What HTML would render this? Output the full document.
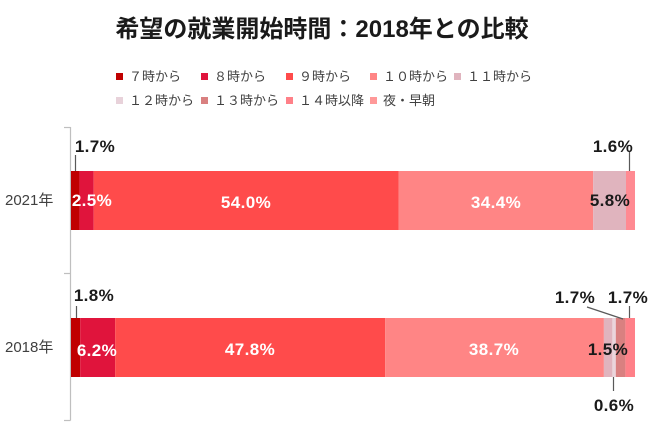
<!DOCTYPE html>
<html><head><meta charset="utf-8">
<style>
html,body{margin:0;padding:0;background:#fff;}
body{width:650px;height:434px;overflow:hidden;}
svg{display:block;}
text{font-family:"Liberation Sans","Noto Sans CJK JP",sans-serif;}
.t{font-weight:bold;font-size:24px;fill:#1a1a1a;}
.lg{font-size:13px;fill:#404040;}
.yl{font-size:15px;fill:#404040;}
.dw{font-weight:bold;font-size:17px;fill:#fff;letter-spacing:0.4px;}
.db{font-weight:bold;font-size:17px;fill:#1a1a1a;letter-spacing:0.4px;}
</style></head>
<body>
<svg width="650" height="434" viewBox="0 0 650 434" xmlns="http://www.w3.org/2000/svg">
<rect width="650" height="434" fill="#fff"/>
<text class="t" x="322" y="37" text-anchor="middle">希望の就業開始時間：2018年との比較</text>

<!-- legend row 1 -->
<rect x="116" y="73" width="7" height="7" fill="#C00000"/><text class="lg" x="129" y="81">７時から</text>
<rect x="201" y="73" width="7" height="7" fill="#E0143C"/><text class="lg" x="214" y="81">８時から</text>
<rect x="286" y="73" width="7" height="7" fill="#FF4B4B"/><text class="lg" x="299" y="81">９時から</text>
<rect x="370" y="73" width="7" height="7" fill="#FF8585"/><text class="lg" x="383" y="81">１０時から</text>
<rect x="454" y="73" width="7" height="7" fill="#E0B4BE"/><text class="lg" x="467" y="81">１１時から</text>
<!-- legend row 2 -->
<rect x="116" y="97" width="7" height="7" fill="#E8D2DA"/><text class="lg" x="129" y="105">１２時から</text>
<rect x="201" y="97" width="7" height="7" fill="#D98080"/><text class="lg" x="214" y="105">１３時から</text>
<rect x="286" y="97" width="7" height="7" fill="#FF8088"/><text class="lg" x="299" y="105">１４時以降</text>
<rect x="370" y="97" width="7" height="7" fill="#FF9999"/><text class="lg" x="383" y="105">夜・早朝</text>

<!-- axis -->
<g stroke="#BFBFBF" stroke-width="1.2">
<line x1="70.5" y1="127" x2="70.5" y2="420.5"/>
<line x1="64" y1="127.5" x2="70.5" y2="127.5"/>
<line x1="64" y1="273.5" x2="70.5" y2="273.5"/>
<line x1="64" y1="420.5" x2="70.5" y2="420.5"/>
</g>

<text class="yl" x="5" y="205">2021年</text>
<text class="yl" x="5" y="352">2018年</text>

<!-- 2021 bar -->
<rect x="71" y="171" width="8.6" height="59" fill="#C00000"/>
<rect x="79.6" y="171" width="14.1" height="59" fill="#E0143C"/>
<rect x="93.7" y="171" width="305.1" height="59" fill="#FF4B4B"/>
<rect x="398.8" y="171" width="194.4" height="59" fill="#FF8585"/>
<rect x="593.2" y="171" width="32.8" height="59" fill="#E0B4BE"/>
<rect x="626" y="171" width="9" height="59" fill="#FF8A92"/>

<!-- 2018 bar -->
<rect x="71" y="318" width="9.2" height="59" fill="#C00000"/>
<rect x="80.2" y="318" width="35" height="59" fill="#E0143C"/>
<rect x="115.2" y="318" width="270" height="59" fill="#FF4B4B"/>
<rect x="385.2" y="318" width="218.7" height="59" fill="#FF8585"/>
<rect x="603.9" y="318" width="8.5" height="59" fill="#E0B4BE"/>
<rect x="612.4" y="318" width="3.4" height="59" fill="#EAD5DC"/>
<rect x="615.8" y="318" width="9.6" height="59" fill="#D98080"/>
<rect x="625.4" y="318" width="9.6" height="59" fill="#FF8088"/>

<!-- leader lines -->
<g stroke="#595959" stroke-width="1.2">
<line x1="75.5" y1="155" x2="75.5" y2="171"/>
<line x1="629.5" y1="152" x2="629.5" y2="171"/>
<line x1="76.5" y1="306" x2="76.5" y2="318"/>
<line x1="587" y1="307" x2="623" y2="319"/>
<line x1="629.5" y1="306" x2="629.5" y2="318"/>
<line x1="613.5" y1="377" x2="613.5" y2="391"/>
</g>

<!-- 2021 labels -->
<text class="db" x="95" y="152" text-anchor="middle">1.7%</text>
<text class="dw" x="92" y="206" text-anchor="middle">2.5%</text>
<text class="dw" x="246" y="208" text-anchor="middle">54.0%</text>
<text class="dw" x="496" y="208" text-anchor="middle">34.4%</text>
<text class="db" x="610" y="206" text-anchor="middle">5.8%</text>
<text class="db" x="613" y="152" text-anchor="middle">1.6%</text>

<!-- 2018 labels -->
<text class="db" x="94" y="301" text-anchor="middle">1.8%</text>
<text class="dw" x="97" y="356" text-anchor="middle">6.2%</text>
<text class="dw" x="250" y="355" text-anchor="middle">47.8%</text>
<text class="dw" x="494" y="355" text-anchor="middle">38.7%</text>
<text class="db" x="608" y="355" text-anchor="middle">1.5%</text>
<text class="db" x="575" y="303" text-anchor="middle">1.7%</text>
<text class="db" x="628" y="303" text-anchor="middle">1.7%</text>
<text class="db" x="614" y="411" text-anchor="middle">0.6%</text>
</svg>
</body></html>
